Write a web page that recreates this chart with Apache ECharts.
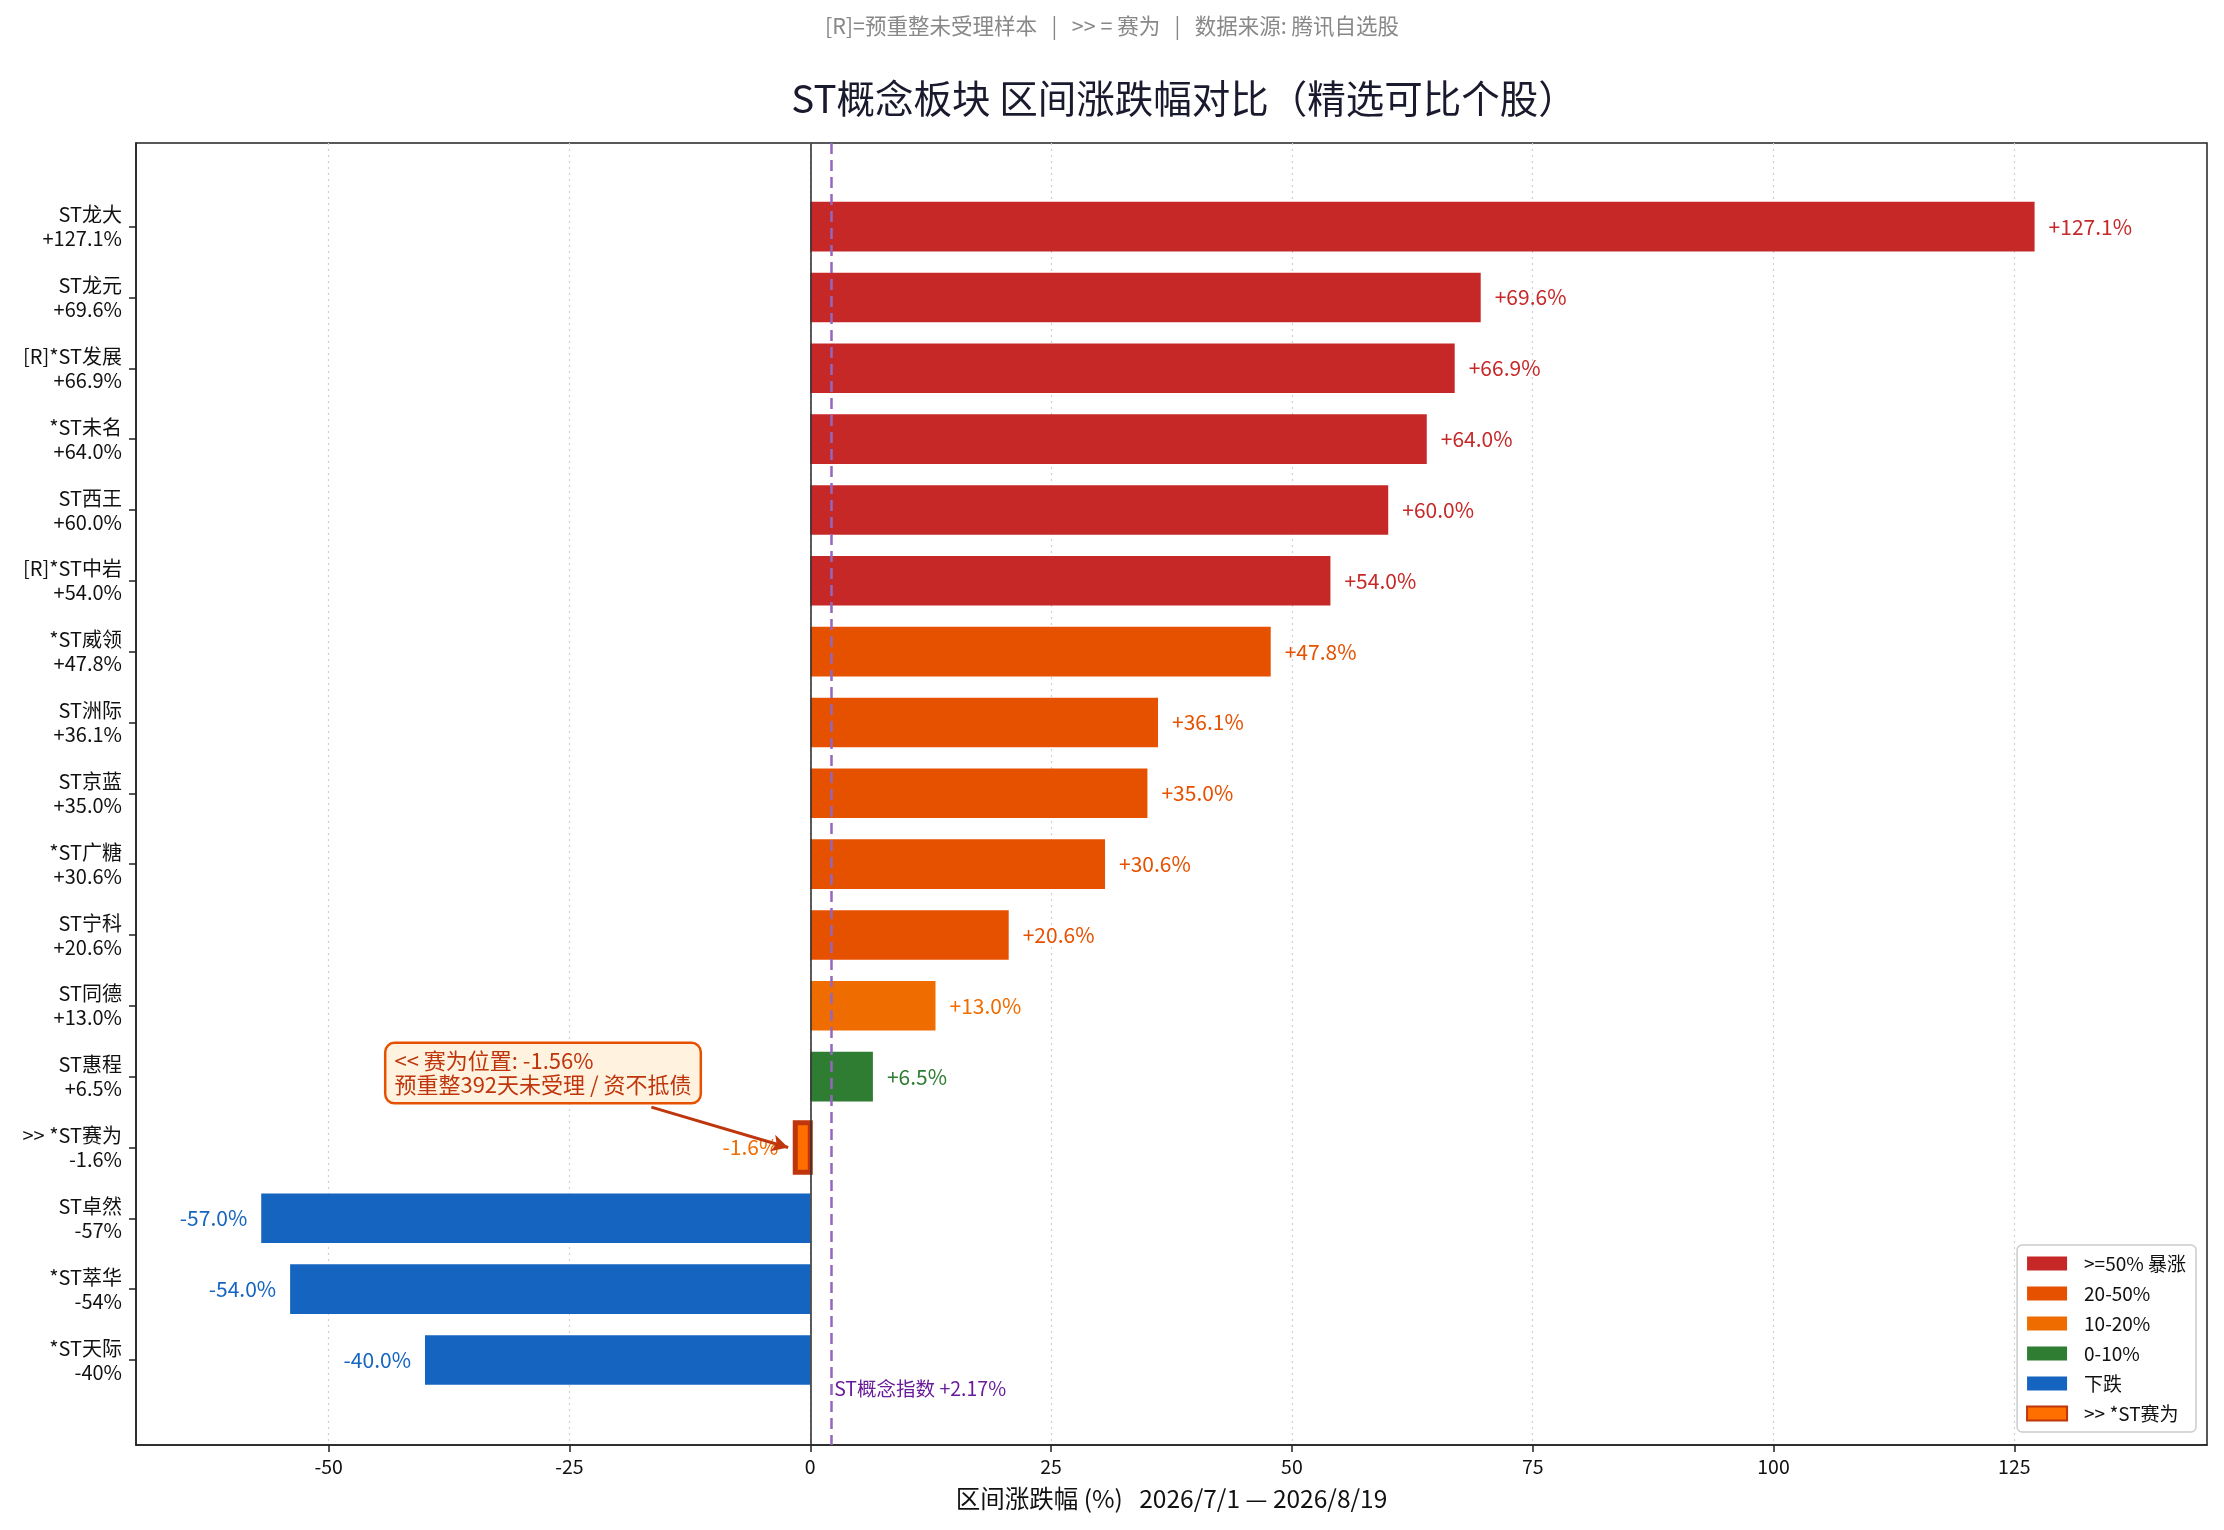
<!DOCTYPE html>
<html>
<head>
<meta charset="utf-8">
<title>ST概念板块 区间涨跌幅对比</title>
<script src="https://cdn.jsdelivr.net/npm/echarts@6/dist/echarts.min.js"></script>
<style>
  html, body { margin: 0; padding: 0; background: #fff; }
  #chart { width: 2224px; height: 1530px; }
</style>
</head>
<body>
<div id="chart"></div>
<script>
// stocks, top to bottom
var names = ['ST龙大', 'ST龙元', '[R]*ST发展', '*ST未名', 'ST西王', '[R]*ST中岩', '*ST威领', 'ST洲际',
  'ST京蓝', '*ST广糖', 'ST宁科', 'ST同德', 'ST惠程', '>> *ST赛为', 'ST卓然', '*ST萃华', '*ST天际'];
var changes = [127.1, 69.6, 66.9, 64.0, 60.0, 54.0, 47.8, 36.1, 35.0, 30.6, 20.6, 13.0, 6.5, -1.56, -57.0, -54.0, -40.0];
var tickPcts = ['+127.1%', '+69.6%', '+66.9%', '+64.0%', '+60.0%', '+54.0%', '+47.8%', '+36.1%', '+35.0%',
  '+30.6%', '+20.6%', '+13.0%', '+6.5%', '-1.6%', '-57%', '-54%', '-40%'];
var xTicks = [-50, -25, 0, 25, 50, 75, 100, 125];
var indexChange = 2.17;
var focusName = '>> *ST赛为';

var groups = [
  { name: '>=50% 暴涨', color: '#c62828', label: '#c62828' },
  { name: '20-50%', color: '#e65100', label: '#e65100' },
  { name: '10-20%', color: '#ef6c00', label: '#ef6c00' },
  { name: '0-10%', color: '#2e7d32', label: '#2e7d32' },
  { name: '下跌', color: '#1565c0', label: '#1565c0' },
  { name: '>> *ST赛为', color: '#ff6f00', label: '#ef6c00', border: '#bf360c' }
];

function groupOf(i) {
  var v = changes[i];
  if (names[i] === focusName) return 5;
  if (v >= 50) return 0;
  if (v >= 20) return 1;
  if (v >= 10) return 2;
  if (v >= 0) return 3;
  return 4;
}

var FONT = '"Noto Sans CJK SC", "Noto Sans", sans-serif';
var BAR_H = 0.7;
var rowIdx = names.map(function (n, i) { return i; });

function renderBar(params, api) {
  var v = api.value(0), i = api.value(1);
  var a = api.coord([0, i]), b = api.coord([v, i]);
  var h = api.size([0, BAR_H])[1];
  var g = groups[params.seriesIndex];
  var gap = g.border ? 17 : 14;
  var txt = (v >= 0 ? '+' : '') + v.toFixed(1) + '%';
  return {
    type: 'group',
    children: [{
      type: 'rect',
      shape: { x: Math.min(a[0], b[0]), y: a[1] - h / 2, width: Math.abs(b[0] - a[0]), height: h },
      style: api.style()
    }, {
      type: 'text',
      x: b[0] + (v >= 0 ? gap : -gap),
      y: a[1],
      style: {
        text: txt, fill: g.label, font: '21px ' + FONT,
        align: v >= 0 ? 'left' : 'right', verticalAlign: 'middle'
      }
    }]
  };
}

var series = groups.map(function (g, gi) {
  var data = [];
  for (var i = 0; i < names.length; i++) {
    if (groupOf(i) === gi) data.push([changes[i], i]);
  }
  return {
    name: g.name,
    type: 'custom',
    renderItem: renderBar,
    encode: { x: 0, y: 1 },
    itemStyle: g.border ? { color: g.color, borderColor: g.border, borderWidth: 5 } : { color: g.color },
    data: data,
    z: 3
  };
});

// reference lines and the annotation
series.push({
  type: 'line',
  data: [],
  silent: true,
  markLine: {
    silent: true,
    animation: false,
    symbol: ['none', 'none'],
    label: { show: false },
    data: [
      { xAxis: 0, lineStyle: { color: '#333', width: 1.6, type: 'solid' } },
      { xAxis: indexChange, lineStyle: { color: '#9467bd', width: 2.5, type: [11, 6] } },
      [
        { coord: [-16.5, 12.43], symbol: 'none', lineStyle: { color: '#bf360c', width: 3, type: 'solid' } },
        { coord: [-2.3, 13.0], symbol: 'arrow', symbolSize: [13, 16] }
      ]
    ]
  },
  markPoint: {
    silent: true,
    animation: false,
    symbol: 'circle',
    symbolSize: 0,
    data: [{
      coord: [indexChange, 16.4],
      label: {
        show: true, position: 'right', distance: 3, formatter: 'ST概念指数 +2.17%',
        color: '#6a1b9a', fontSize: 19.5, fontFamily: FONT
      }
    }, {
      coord: [-44.0, 11.95],
      label: {
        show: true, position: 'right', distance: 0,
        formatter: '<< 赛为位置: -1.56%\n预重整392天未受理 / 资不抵债',
        color: '#bf360c', fontSize: 22, lineHeight: 24, fontFamily: FONT,
        backgroundColor: '#fff3e0', borderColor: '#e65100', borderWidth: 2.5, borderRadius: 8,
        padding: [5, 8, 5, 8]
      }
    }]
  }
});

var chart = echarts.init(document.getElementById('chart'));
chart.setOption({
  animation: false,
  backgroundColor: '#fff',
  textStyle: { fontFamily: FONT },
  graphic: [{
    type: 'text', x: 1112, y: 26,
    style: {
      text: '[R]=预重整未受理样本   |   >> = 赛为   |   数据来源: 腾讯自选股',
      fill: '#888', font: '21.5px ' + FONT, align: 'center', verticalAlign: 'middle'
    }
  }, {
    type: 'text', x: 1184, y: 98,
    style: {
      text: 'ST概念板块 区间涨跌幅对比（精选可比个股）',
      fill: '#1a1a2e', font: '38.5px ' + FONT, align: 'center', verticalAlign: 'middle'
    }
  }],
  grid: {
    left: 136, right: 17, top: 143, bottom: 85,
    show: true, borderColor: '#222', borderWidth: 1.5, backgroundColor: 'transparent'
  },
  legend: {
    orient: 'vertical', right: 28, bottom: 98,
    icon: 'rect', itemWidth: 40, itemHeight: 14, itemGap: 11,
    padding: [9, 10, 9, 9],
    backgroundColor: '#fff', borderColor: '#ccc', borderWidth: 1.5, borderRadius: 5,
    textStyle: { fontSize: 19, color: '#111', fontFamily: FONT, padding: [0, 0, 0, 12] },
    data: groups.map(function (g) {
      return {
        name: g.name,
        itemStyle: g.border ? { color: g.color, borderColor: g.border, borderWidth: 2 } : { color: g.color, borderWidth: 0 }
      };
    })
  },
  xAxis: {
    type: 'value', min: -70, max: 145,
    name: '区间涨跌幅 (%)   2026/7/1 — 2026/8/19',
    nameLocation: 'middle', nameGap: 41,
    nameTextStyle: { fontSize: 24.5, color: '#111', fontFamily: FONT },
    axisLine: { show: true, onZero: false, lineStyle: { color: '#222', width: 1.5 } },
    axisTick: { show: true, length: 7, customValues: xTicks, lineStyle: { color: '#222', width: 1.5 } },
    axisLabel: { customValues: xTicks, fontSize: 19.5, color: '#111', margin: 12, fontFamily: FONT },
    splitLine: { show: true, lineStyle: { color: '#d0d0d0', width: 1.2, type: [2, 4] } }
  },
  yAxis: {
    type: 'value', inverse: true, min: -1.18, max: 17.2,
    axisLine: { show: true, onZero: false, lineStyle: { color: '#222', width: 1.5 } },
    axisTick: { show: true, length: 7, customValues: rowIdx, lineStyle: { color: '#222', width: 1.5 } },
    axisLabel: {
      customValues: rowIdx,
      fontSize: 20, lineHeight: 24, color: '#111', margin: 14, fontFamily: FONT,
      padding: [5, 0, 0, 0],
      formatter: function (v) {
        var i = Math.round(v);
        return names[i] + '\n' + tickPcts[i];
      }
    },
    splitLine: { show: false }
  },
  series: series
});
</script>
</body>
</html>
